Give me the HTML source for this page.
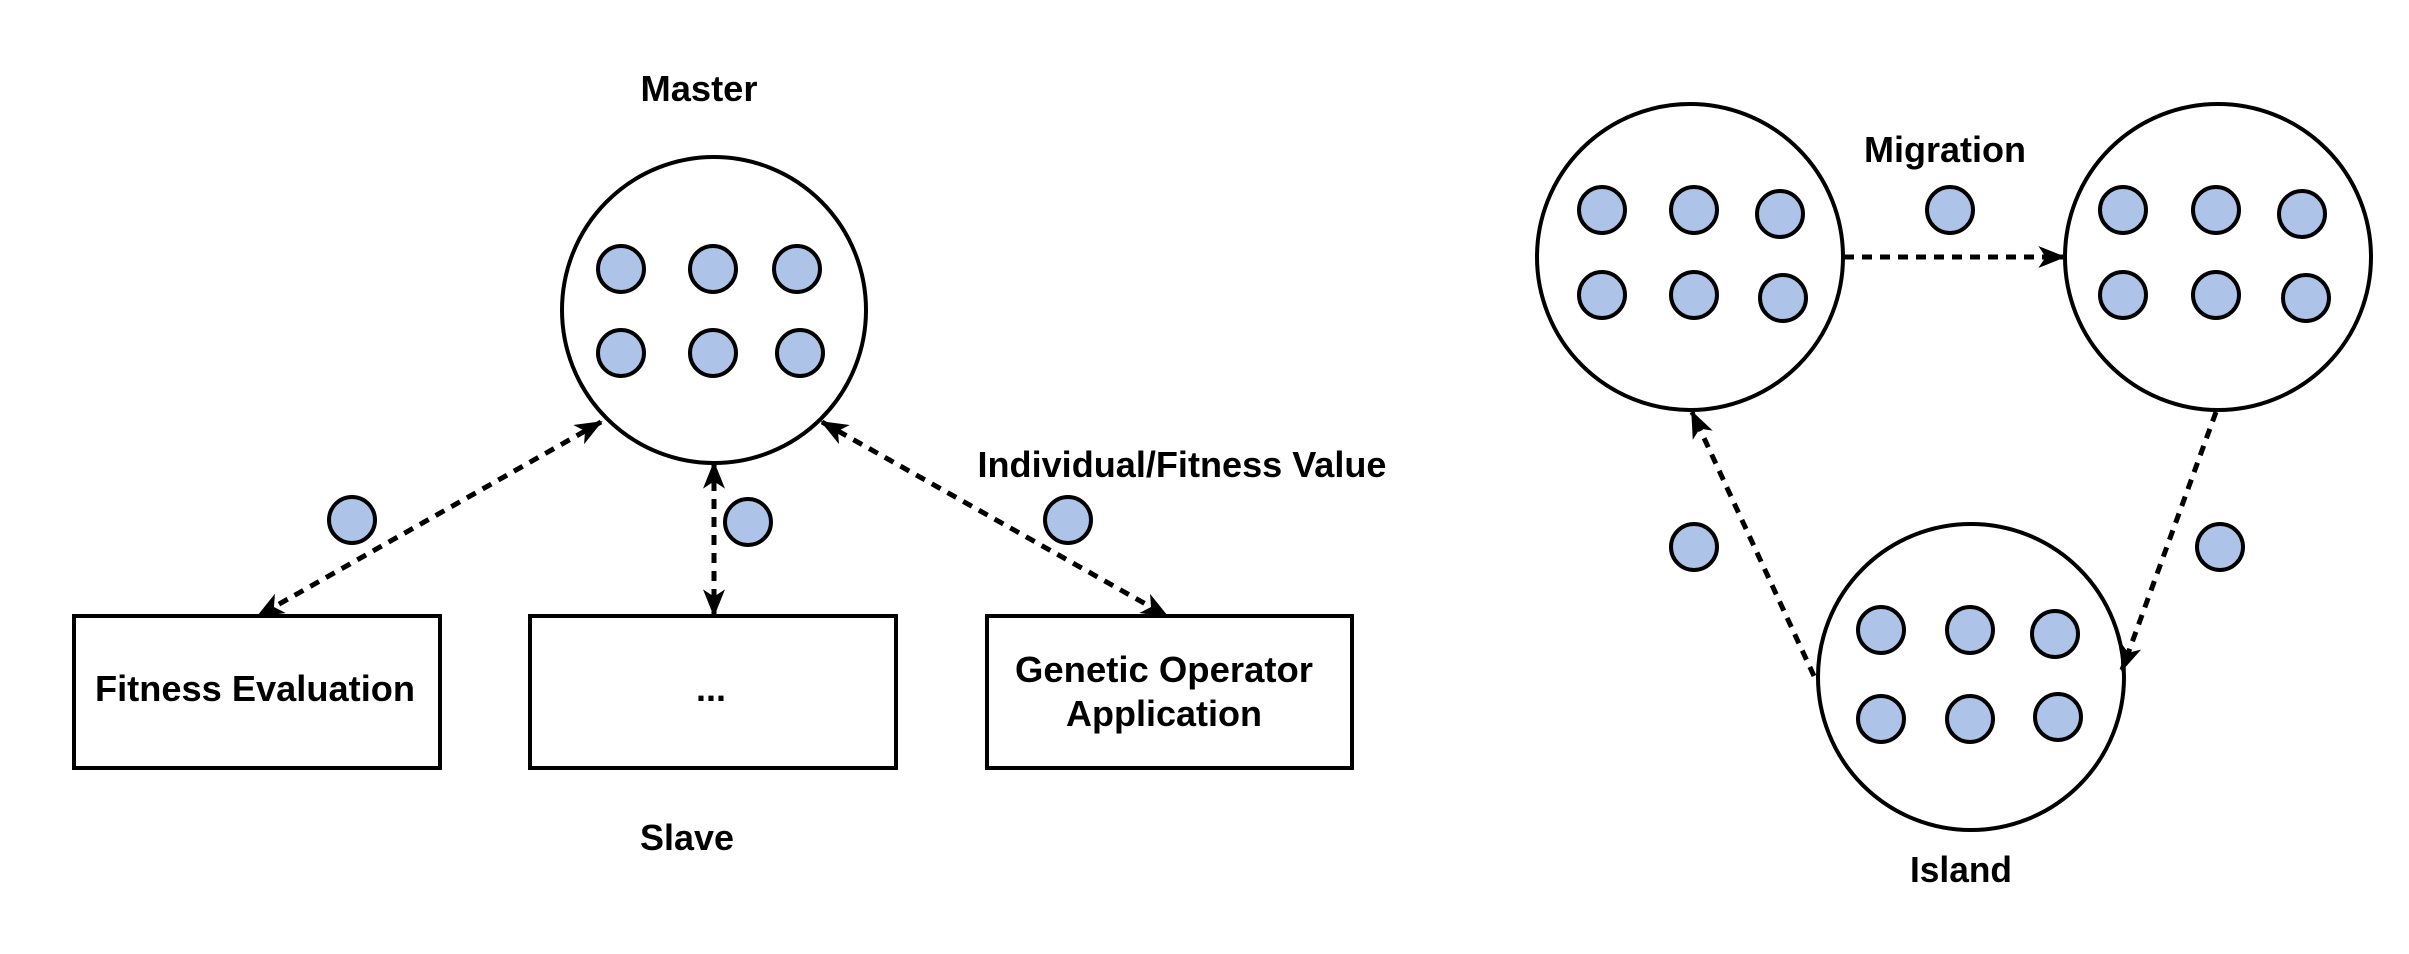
<!DOCTYPE html>
<html><head><meta charset="utf-8"><style>html,body{margin:0;padding:0;background:#fff}svg{display:block}</style></head>
<body>
<svg width="2409" height="954" viewBox="0 0 2409 954" xmlns="http://www.w3.org/2000/svg">
<defs>
<marker id="a" viewBox="0 0 30 24" refX="28" refY="12" markerWidth="28" markerHeight="22" markerUnits="userSpaceOnUse" orient="auto-start-reverse">
<path d="M0,0 L30,12 L0,24 L8,12 Z" fill="#000"/>
</marker>
</defs>
<g font-family="Liberation Sans, Arial, sans-serif" font-weight="bold" font-size="36" fill="#000" text-anchor="middle">
<text x="699" y="101" textLength="117" lengthAdjust="spacingAndGlyphs">Master</text>
<text x="255" y="701" textLength="320" lengthAdjust="spacingAndGlyphs">Fitness Evaluation</text>
<text x="711" y="701">...</text>
<text x="1164" y="682" textLength="298" lengthAdjust="spacingAndGlyphs">Genetic Operator</text>
<text x="1164" y="726" textLength="196" lengthAdjust="spacingAndGlyphs">Application</text>
<text x="687" y="850" textLength="94" lengthAdjust="spacingAndGlyphs">Slave</text>
<text x="1182" y="477" textLength="409" lengthAdjust="spacingAndGlyphs">Individual/Fitness Value</text>
<text x="1945" y="162" textLength="162" lengthAdjust="spacingAndGlyphs">Migration</text>
<text x="1961" y="882" textLength="102" lengthAdjust="spacingAndGlyphs">Island</text>
</g>
<g fill="none" stroke="#000" stroke-width="4">
<ellipse cx="714" cy="310" rx="152" ry="153"/>
<rect x="74" y="616" width="366" height="152"/>
<rect x="530" y="616" width="366" height="152"/>
<rect x="987" y="616" width="365" height="152"/>
<circle cx="1690" cy="257" r="153"/>
<circle cx="2218" cy="257" r="153"/>
<circle cx="1971" cy="677" r="153"/>
</g>
<g fill="none" stroke="#000" stroke-width="5" stroke-dasharray="10 8">
<line x1="601" y1="422" x2="258" y2="616" marker-start="url(#a)" marker-end="url(#a)"/>
<line x1="714" y1="463" x2="714" y2="615" marker-start="url(#a)" marker-end="url(#a)"/>
<line x1="822" y1="422" x2="1167" y2="616" marker-start="url(#a)" marker-end="url(#a)"/>
<line x1="1844" y1="257" x2="2064" y2="257" marker-end="url(#a)"/>
<line x1="2216" y1="412" x2="2122" y2="670" marker-end="url(#a)"/>
<line x1="1814" y1="676" x2="1692" y2="412" marker-end="url(#a)"/>
</g>
<g fill="#aec3e8" stroke="#000" stroke-width="4">
<circle cx="621" cy="269" r="23"/><circle cx="713" cy="269" r="23"/><circle cx="797" cy="269" r="23"/>
<circle cx="621" cy="353" r="23"/><circle cx="713" cy="353" r="23"/><circle cx="800" cy="353" r="23"/>
<circle cx="352" cy="520" r="23"/><circle cx="748" cy="522" r="23"/><circle cx="1068" cy="520" r="23"/>
<circle cx="1602" cy="210" r="23"/><circle cx="1694" cy="210" r="23"/><circle cx="1780" cy="214" r="23"/>
<circle cx="1602" cy="295" r="23"/><circle cx="1694" cy="295" r="23"/><circle cx="1783" cy="298" r="23"/>
<circle cx="2123" cy="210" r="23"/><circle cx="2216" cy="210" r="23"/><circle cx="2302" cy="214" r="23"/>
<circle cx="2123" cy="295" r="23"/><circle cx="2216" cy="295" r="23"/><circle cx="2306" cy="298" r="23"/>
<circle cx="1881" cy="630" r="23"/><circle cx="1970" cy="630" r="23"/><circle cx="2055" cy="634" r="23"/>
<circle cx="1881" cy="719" r="23"/><circle cx="1970" cy="719" r="23"/><circle cx="2058" cy="717" r="23"/>
<circle cx="1950" cy="210" r="23"/><circle cx="1694" cy="547" r="23"/><circle cx="2220" cy="547" r="23"/>
</g>
</svg>
</body></html>
